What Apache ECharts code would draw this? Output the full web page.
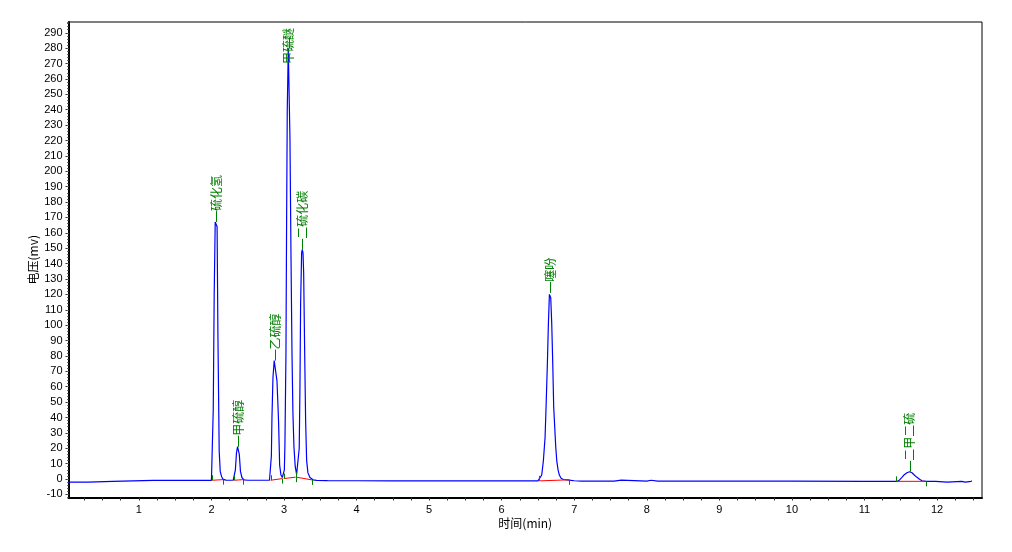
<!DOCTYPE html>
<html><head><meta charset="utf-8">
<script src="https://cdn.jsdelivr.net/npm/echarts@6/dist/echarts.min.js"></script>
<style>html,body{margin:0;padding:0;background:#fff}#c{width:1012px;height:552px}</style>
</head><body><div id="c"></div>
<script>
// ---- axis ticks ----
const xTickLabels = [1,2,3,4,5,6,7,8,9,10,11,12];
const xMinorTicks = [0.25,0.5,0.75,1,1.25,1.5,1.75,2,2.25,2.5,2.75,3,3.25,3.5,3.75,4,4.25,4.5,4.75,5,5.25,5.5,5.75,6,6.25,6.5,6.75,7,7.25,7.5,7.75,8,8.25,8.5,8.75,9,9.25,9.5,9.75,10,10.25,10.5,10.75,11,11.25,11.5,11.75,12,12.25,12.5];
const yTickLabels = [-10,0,10,20,30,40,50,60,70,80,90,100,110,120,130,140,150,160,170,180,190,200,210,220,230,240,250,260,270,280,290];

// ---- chromatogram trace: [time (min), signal (mV)] ----
const trace = [
[0.03,-2.0],[0.30,-2.0],[0.31,-1.5],[0.64,-1.5],[0.66,-0.9],[1.20,-0.9],[1.60,-0.9],[2.00,-0.9],
[2.012,-0.7],[2.025,45],[2.038,120],[2.052,167],[2.065,167],[2.078,164],[2.089,95],[2.107,18],[2.121,5],[2.14,1.5],[2.162,-0.2],[2.20,-0.7],[2.30,-0.8],
[2.314,-0.5],[2.33,6],[2.345,17],[2.36,21],[2.372,21],[2.384,16],[2.40,5],[2.42,1],[2.45,-0.5],[2.50,-0.8],[2.65,-0.8],[2.80,-0.8],
[2.816,0],[2.826,15],[2.834,40],[2.848,66],[2.865,77],[2.889,77],[2.903,64],[2.915,50],[2.926,36],[2.94,9],[2.958,2.6],[2.977,1],
[2.995,1],[3.005,6],[3.013,23],[3.027,82],[3.036,168],[3.045,240],[3.059,280],[3.068,280],[3.082,222],[3.096,147],[3.110,82],[3.123,43],[3.137,21],[3.155,8],[3.174,3],
[3.19,2],[3.210,20],[3.220,60],[3.229,114],[3.243,147],[3.252,149],[3.262,147],[3.271,134],[3.285,82],[3.298,38],[3.312,12],[3.330,4],[3.358,1],[3.40,-0.5],[3.45,-0.9],
[3.60,-1.0],[4.00,-1.1],[4.50,-1.2],[5.00,-1.2],[5.50,-1.2],[6.00,-1.2],[6.50,-1.2],
[6.52,-1.2],[6.552,2.6],[6.575,12],[6.598,27],[6.612,47],[6.630,75],[6.644,101],[6.658,120],[6.667,121],[6.676,118],[6.690,101],[6.704,75],[6.717,47],[6.731,34],[6.745,21],[6.759,12],[6.777,6],[6.795,2.6],[6.819,0.5],[6.85,-0.3],[6.93,-0.7],
[7.00,-1.1],[7.10,-1.3],[7.12,-1.8],[7.15,-1.3],[7.55,-1.3],[7.57,-0.7],[7.65,-0.7],[7.67,-1.3],[8.00,-1.3],[8.02,-0.8],[8.06,-0.8],[8.08,-1.3],[8.15,-1.3],[8.17,-0.8],[8.19,-1.3],
[9.00,-1.4],[10.00,-1.4],[11.00,-1.5],[11.456,-1.5],
[11.484,-0.6],[11.517,1.1],[11.549,2.8],[11.586,4.1],[11.622,4.7],[11.655,4.1],[11.686,2.6],[11.724,1.1],[11.759,-0.2],[11.793,-1.1],[11.85,-1.5],
[11.98,-1.5],[12.00,-2.0],[12.14,-2.0],[12.16,-1.5],[12.34,-1.5],[12.35,-2.0],[12.39,-2.0],[12.40,-1.5],[12.47,-1.5],[12.48,-1.1]
];

// ---- identified peaks ----
const peakNames   = ['硫化氢','甲硫醇','乙硫醇','甲硫醚','二硫化碳','噻吩','二甲二硫'];
const peakTimes   = [2.065, 2.366, 2.880, 3.064, 3.255, 6.670, 11.622];
const peakHeights = [167, 21, 77, 280, 149, 121, 4.7];

// ---- integration baselines (start/end of each peak) ----
const baseStartT = [2.012, 2.314, 2.816, 2.995, 3.170, 6.520, 11.434];
const baseStartV = [-0.8, -0.8, -0.8, 0.3, 1.2, -1.2, -1.5];
const baseEndT   = [2.162, 2.438, 2.977, 3.160, 3.390, 6.930, 11.848];
const baseEndV   = [-0.4, -0.4, 0.3, 1.2, -0.6, -0.5, -1.5];

const GREEN = '#008000';
const px = v => Math.round(v) + 0.5;

const chart = echarts.init(document.getElementById('c'), null, {renderer: 'canvas'});
chart.setOption({
  animation: false,
  backgroundColor: '#ffffff',
  grid: {left: 68.5, right: 30, top: 22, bottom: 54.5, show: true, borderColor: '#000', borderWidth: 1, backgroundColor: 'transparent'},
  xAxis: {
    type: 'value', min: 0.03, max: 12.62,
    name: '时间(min)', nameLocation: 'middle', nameGap: 20, nameMoveOverlap: false,
    nameTextStyle: {color: '#000', fontSize: 12, fontFamily: '"Noto Sans CJK SC"'},
    axisLine: {onZero: false, lineStyle: {color: '#000', width: 2}},
    axisTick: {customValues: xMinorTicks, length: 3, lineStyle: {color: '#333'}},
    axisLabel: {customValues: xTickLabels, color: '#000', fontSize: 11, fontFamily: '"Liberation Sans"', margin: 7},
    splitLine: {show: false}
  },
  yAxis: [{
    type: 'value', min: -12, max: 297,
    name: '电压(mv)', nameLocation: 'middle', nameGap: 29, nameRotate: 90, nameMoveOverlap: false,
    nameTextStyle: {color: '#000', fontSize: 12, fontFamily: '"Noto Sans CJK SC"'},
    axisLine: {onZero: false, lineStyle: {color: '#000', width: 2}},
    axisTick: {customValues: yTickLabels, length: 3, lineStyle: {color: '#333'}},
    axisLabel: {customValues: yTickLabels, color: '#000', fontSize: 11, fontFamily: '"Liberation Sans"', margin: 6},
    splitLine: {show: false}
  }, {
    type: 'value', min: -12, max: 297, interval: 2, position: 'left',
    axisLine: {show: false},
    axisTick: {show: true, length: 1.5, lineStyle: {color: '#666'}},
    axisLabel: {show: false},
    splitLine: {show: false}
  }],
  series: [
    {
      type: 'line', data: trace, showSymbol: false, symbol: 'none', silent: true,
      lineStyle: {color: '#0000ff', width: 1.2}, z: 2
    },
    {
      type: 'custom', silent: true, z: 3,
      data: baseStartT.map((t, i) => [t, baseStartV[i], baseEndT[i], baseEndV[i]]),
      encode: {x: [0, 2], y: [1, 3]},
      renderItem: (params, api) => {
        const p1 = api.coord([api.value(0), api.value(1)]);
        const p2 = api.coord([api.value(2), api.value(3)]);
        return {type: 'group', children: [
          {type: 'line', shape: {x1: p1[0], y1: p1[1], x2: p2[0], y2: p2[1]}, style: {stroke: '#ff0000', lineWidth: 1}},
          {type: 'line', shape: {x1: px(p1[0]), y1: p1[1], x2: px(p1[0]), y2: p1[1] - 5}, style: {stroke: GREEN, lineWidth: 1}},
          {type: 'line', shape: {x1: px(p2[0]), y1: p2[1], x2: px(p2[0]), y2: p2[1] + 5}, style: {stroke: GREEN, lineWidth: 1}}
        ]};
      }
    },
    {
      type: 'custom', silent: true, z: 4,
      data: peakTimes.map((t, i) => [t, peakHeights[i]]),
      encode: {x: 0, y: 1},
      renderItem: (params, api) => {
        const c = api.coord([api.value(0), api.value(1)]);
        const name = peakNames[params.dataIndex];
        const top = params.coordSys.y;
        const len = name.length * 12;
        let yb = c[1] - 11;
        if (yb - len < top + 6) yb = top + 6 + len;
        return {type: 'group', children: [
          {type: 'line', shape: {x1: px(c[0]), y1: c[1], x2: px(c[0]), y2: c[1] - 11}, style: {stroke: GREEN, lineWidth: 1}},
          {type: 'text', x: c[0], y: yb, rotation: Math.PI / 2,
           style: {text: name, fill: GREEN, font: '12px "Noto Sans CJK SC"', align: 'left', verticalAlign: 'middle'}}
        ]};
      }
    }
  ]
});
</script>
</body></html>
